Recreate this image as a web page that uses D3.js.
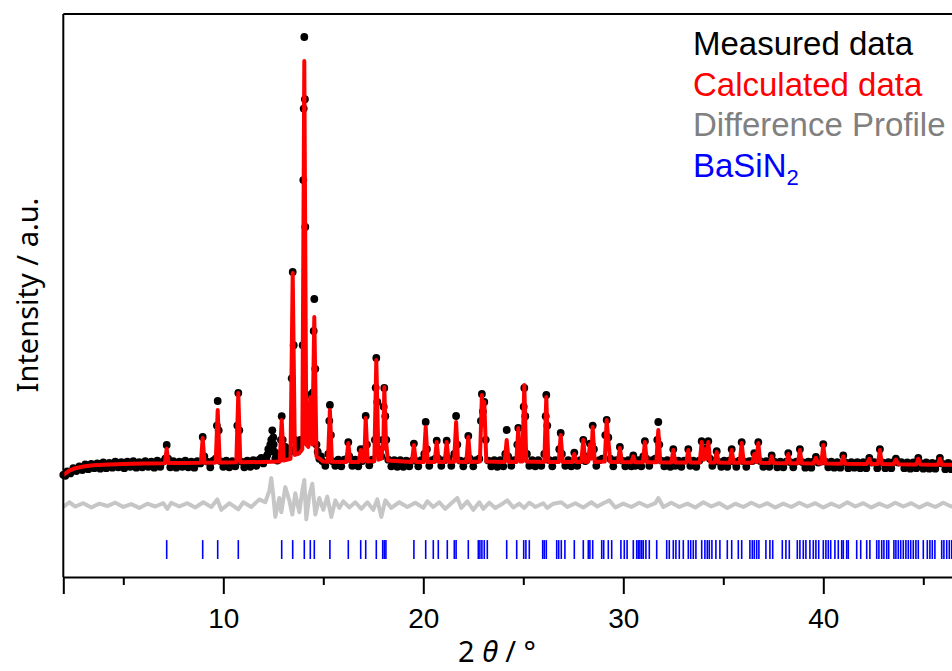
<html>
<head>
<script src="https://d3js.org/d3.v7.min.js"></script>
<style>
  body { margin: 0; background: #fff; }
  .tick text { font-family: "Liberation Sans", Arial, sans-serif; font-size: 28px; fill: #000; }
  .legend text { font-family: "Liberation Sans", Arial, sans-serif; font-size: 33px; }
  .title { font-family: "Noto Sans", "Open Sans", sans-serif; font-size: 29px; fill: #000; }
</style>
</head>
<body>
<svg width="952" height="671"></svg>
<script>
const width = 952, height = 671;

// measured points (2theta, counts)
const measured = [
[2.0,760],[2.1,740],[2.2,830],[2.35,790],[2.5,900],[2.65,840],[2.8,940],[2.95,860],[3.1,980],[3.25,880],[3.4,990],[3.55,900],[3.7,1000],[3.85,890],[4.0,1020],[4.15,900],[4.3,1010],[4.45,910],[4.6,1040],[4.75,920],[4.9,1030],[5.05,900],[5.2,1040],[5.35,930],[5.5,1050],[5.65,910],[5.8,1030],[5.95,920],[6.1,1050],[6.25,930],[6.4,1040],[6.55,910],[6.7,1060],[6.85,930],[7.0,1040],[7.1,1100],[7.17,1390],[7.24,1100],[7.35,920],[7.5,1050],[7.65,910],[7.8,1040],[7.95,930],[8.1,1060],[8.25,920],[8.4,1040],[8.55,910],[8.7,1050],[8.85,1000],[8.97,1560],[9.05,1150],[9.2,1040],[9.35,920],[9.5,1060],[9.62,1100],[9.68,1800],[9.72,2320],[9.77,1700],[9.85,1050],[10.0,930],[10.15,1060],[10.3,920],[10.45,1050],[10.6,940],[10.7,1800],[10.75,2489],[10.8,1700],[10.9,1040],[11.05,920],[11.2,1060],[11.35,930],[11.5,1070],[11.65,950],[11.8,1080],[11.9,1120],[12.0,1000],[12.1,1120],[12.15,1100],[12.2,1180],[12.25,1300],[12.3,1250],[12.35,1400],[12.4,1500],[12.45,1700],[12.5,1550],[12.52,1400],[12.55,1250],[12.6,1100],[12.65,1150],[12.7,1060],[12.75,1200],[12.8,1100],[12.88,1500],[12.92,2000],[12.97,1500],[13.0,1300],[13.05,1150],[13.1,1350],[13.15,1300],[13.2,1250],[13.25,1150],[13.3,1300],[13.35,1250],[13.42,2800],[13.47,5047],[13.52,3500],[13.58,1500],[13.65,1350],[13.7,1250],[13.75,1400],[13.8,1300],[13.85,1500],[13.9,1450],[13.97,3500],[14.0,6990],[14.02,8500],[14.05,10014],[14.08,8700],[14.1,6000],[14.15,2000],[14.2,1700],[14.25,1500],[14.32,2000],[14.35,2450],[14.4,1800],[14.44,1600],[14.48,2500],[14.52,3800],[14.55,4476],[14.6,3000],[14.66,1400],[14.72,1250],[14.8,1100],[14.88,1150],[14.95,1050],[15.1,950],[15.25,1200],[15.3,1900],[15.33,2236],[15.38,1600],[15.45,1050],[15.6,950],[15.75,1080],[15.9,940],[16.05,1080],[16.2,1100],[16.25,1450],[16.3,1150],[16.45,950],[16.6,1080],[16.75,940],[16.87,1300],[16.95,1050],[17.05,1300],[17.12,2003],[17.18,1400],[17.3,960],[17.45,1080],[17.58,1500],[17.62,2600],[17.65,3229],[17.7,2300],[17.76,1300],[17.9,1150],[17.97,1500],[18.02,2200],[18.05,2595],[18.1,2000],[18.15,1500],[18.25,1080],[18.4,940],[18.55,1070],[18.7,930],[18.85,1070],[19.0,930],[19.15,1060],[19.3,940],[19.45,1060],[19.53,1420],[19.6,1060],[19.75,940],[19.9,1070],[20.05,1200],[20.12,1876],[20.18,1300],[20.3,950],[20.45,1070],[20.6,1100],[20.67,1480],[20.75,1100],[20.9,950],[21.05,1070],[21.17,1480],[21.25,1100],[21.4,950],[21.55,1200],[21.64,2003],[21.7,1400],[21.85,1060],[22.0,940],[22.15,1060],[22.25,1580],[22.33,1100],[22.5,940],[22.65,1070],[22.8,1100],[22.88,1900],[22.93,2470],[22.98,2100],[23.05,2300],[23.12,1500],[23.25,1060],[23.4,940],[23.55,1070],[23.7,930],[23.85,1070],[24.0,940],[24.1,1200],[24.17,1707],[24.24,1150],[24.4,950],[24.55,1070],[24.7,1400],[24.75,1749],[24.82,1300],[24.95,1200],[25.02,2200],[25.05,2595],[25.1,2000],[25.18,1200],[25.3,950],[25.45,1070],[25.6,940],[25.75,1070],[25.9,950],[26.05,1200],[26.12,2000],[26.15,2447],[26.2,1800],[26.3,1070],[26.45,940],[26.6,1070],[26.8,1300],[26.87,1644],[26.93,1200],[27.1,950],[27.25,1070],[27.4,940],[27.55,1230],[27.7,950],[27.85,1070],[28.0,1500],[28.1,1050],[28.25,1150],[28.33,1420],[28.42,1400],[28.47,1800],[28.53,1300],[28.65,950],[28.8,1070],[28.95,1100],[29.1,1600],[29.17,1919],[29.25,1550],[29.35,1100],[29.5,940],[29.65,1070],[29.83,1350],[29.95,1060],[30.1,940],[30.25,1070],[30.4,940],[30.5,1170],[30.6,950],[30.75,1070],[30.9,940],[31.0,1150],[31.08,1470],[31.15,1100],[31.3,950],[31.45,1070],[31.6,1100],[31.7,1500],[31.75,1876],[31.8,1400],[31.9,1060],[32.05,940],[32.2,1070],[32.35,930],[32.5,1300],[32.6,950],[32.75,1060],[32.9,930],[33.05,1060],[33.25,1300],[33.35,950],[33.5,1060],[33.65,930],[33.8,1060],[33.92,1470],[34.0,1150],[34.08,1320],[34.17,1200],[34.25,1470],[34.33,1100],[34.45,950],[34.58,1060],[34.67,1260],[34.75,1040],[34.9,930],[35.05,1060],[35.2,930],[35.3,1060],[35.42,1300],[35.52,1040],[35.65,930],[35.8,1060],[35.92,1450],[36.0,1050],[36.15,930],[36.3,1050],[36.45,1050],[36.55,1220],[36.65,1100],[36.75,1450],[36.85,1050],[37.0,930],[37.15,1050],[37.3,930],[37.42,1170],[37.55,1040],[37.7,920],[37.85,1040],[38.0,920],[38.15,1040],[38.25,1220],[38.35,1030],[38.5,920],[38.65,1040],[38.83,1300],[38.95,1030],[39.1,910],[39.25,1040],[39.4,910],[39.5,1040],[39.63,1140],[39.75,1020],[39.88,1040],[40.0,1410],[40.1,1040],[40.25,920],[40.4,1040],[40.55,910],[40.7,1030],[40.85,910],[41.0,1170],[41.1,1020],[41.25,900],[41.4,1030],[41.55,910],[41.7,1030],[41.85,900],[42.0,1030],[42.15,900],[42.3,1120],[42.42,1020],[42.55,1030],[42.7,900],[42.83,1300],[42.95,1020],[43.1,900],[43.25,1030],[43.4,900],[43.5,1030],[43.63,1100],[43.75,1020],[43.9,1030],[44.05,900],[44.2,1020],[44.35,890],[44.5,1020],[44.65,900],[44.75,1120],[44.85,1010],[45.0,890],[45.15,1020],[45.3,890],[45.45,1010],[45.6,890],[45.73,1010],[45.83,1120],[45.93,1000],[46.1,880],[46.25,1010],[46.4,880],[46.55,1000],[46.7,880],[46.85,1000],[47.0,890]
];

// calculated profile
const calculated = [
[2.0,756],[2.3,850],[2.6,900],[3.0,935],[3.5,960],[4.0,975],[5.0,990],[6.0,1000],[7.0,1005],
[7.08,1010],[7.17,1310],[7.26,1010],[8.0,1010],[8.88,1015],[8.97,1538],[9.06,1015],
[9.62,1020],[9.72,2130],[9.82,1020],[10.65,1025],[10.75,2489],[10.85,1025],
[12.0,1030],[12.82,1040],[12.92,1919],[13.02,1060],
[13.36,1100],[13.47,5026],[13.58,1180],[13.8,1220],[13.95,1300],[14.05,9507],[14.15,1400],[14.25,1350],[14.35,2400],[14.45,1400],[14.55,4096],[14.66,1150],
[15.0,1040],[15.23,1035],[15.33,2130],[15.43,1035],[16.15,1030],[16.25,1432],[16.35,1030],
[16.78,1030],[16.87,1284],[16.96,1040],[17.05,1060],[17.12,1961],[17.22,1040],
[17.55,1050],[17.65,3187],[17.76,1080],[17.9,1100],[17.97,1400],[18.0,1300],[18.05,2616],[18.13,1500],[18.23,1060],
[19.43,1030],[19.53,1390],[19.63,1030],[20.02,1030],[20.12,1771],[20.22,1030],
[20.57,1030],[20.67,1453],[20.77,1030],[21.07,1030],[21.17,1453],[21.27,1030],
[21.54,1035],[21.64,1876],[21.74,1035],[22.15,1030],[22.25,1559],[22.35,1030],
[22.83,1040],[22.93,2447],[23.0,1800],[23.05,2300],[23.15,1040],
[24.07,1030],[24.17,1496],[24.27,1030],[24.65,1030],[24.75,1749],[24.85,1040],
[24.95,1040],[25.05,2658],[25.15,1040],[26.05,1030],[26.15,2405],[26.25,1030],
[26.77,1030],[26.87,1601],[26.97,1030],[27.45,1030],[27.55,1200],[27.65,1030],
[27.9,1030],[28.0,1496],[28.1,1030],[28.25,1040],[28.33,1400],[28.4,1100],[28.47,1771],[28.57,1030],
[29.07,1040],[29.17,1919],[29.25,1500],[29.35,1030],[29.73,1030],[29.83,1327],[29.93,1030],
[30.4,1025],[30.5,1150],[30.6,1025],[30.98,1025],[31.08,1453],[31.18,1025],
[31.65,1025],[31.75,1707],[31.85,1025],[32.4,1020],[32.5,1284],[32.6,1020],
[33.15,1020],[33.25,1284],[33.35,1020],
[33.82,1020],[33.92,1453],[34.02,1080],[34.08,1300],[34.15,1100],[34.25,1453],[34.35,1020],
[34.57,1020],[34.67,1242],[34.77,1020],[35.32,1015],[35.42,1284],[35.52,1015],
[35.82,1015],[35.92,1432],[36.02,1015],[36.45,1015],[36.55,1200],[36.65,1030],[36.75,1432],[36.85,1015],
[37.32,1010],[37.42,1150],[37.52,1010],[38.15,1005],[38.25,1200],[38.35,1005],
[38.73,1005],[38.83,1284],[38.93,1005],[39.5,1000],[39.63,1120],[39.75,1000],
[39.9,1000],[40.0,1390],[40.1,1000],[40.9,995],[41.0,1150],[41.1,995],
[42.17,990],[42.3,1100],[42.4,990],[42.73,990],[42.83,1284],[42.93,990],
[43.5,985],[43.63,1080],[43.75,985],[44.65,980],[44.75,1100],[44.85,980],
[45.73,975],[45.83,1100],[45.93,975],[47.0,970]
];

// difference (obs - calc)
const difference = [
[2.0,-40],[2.3,60],[2.6,-30],[3.0,40],[3.4,-50],[3.8,30],[4.2,-20],[4.6,50],[5.0,-40],[5.4,20],[5.8,-60],[6.2,30],[6.6,-30],[7.0,40],[7.2,-80],[7.4,50],[7.8,-30],[8.2,40],[8.6,-50],[9.0,60],[9.4,-40],[9.7,120],[9.9,-100],[10.3,40],[10.75,-90],[11.0,60],[11.4,-40],[11.8,120],[12.1,60],[12.3,300],[12.4,570],[12.5,200],[12.6,-250],[12.8,150],[12.9,-150],[13.1,380],[13.3,100],[13.45,-200],[13.6,250],[13.8,-150],[13.95,300],[14.05,530],[14.15,-300],[14.3,200],[14.45,450],[14.6,-200],[14.8,150],[15.0,-100],[15.2,180],[15.4,-250],[15.6,100],[15.8,-60],[16.0,80],[16.3,-50],[16.6,60],[16.9,-80],[17.2,60],[17.5,-100],[17.7,120],[17.9,-250],[18.1,100],[18.4,-60],[18.8,60],[19.2,-40],[19.6,50],[20.0,-60],[20.2,80],[20.5,-40],[20.8,60],[21.1,-80],[21.4,40],[21.7,150],[21.9,-60],[22.2,80],[22.5,-100],[22.8,60],[23.0,-80],[23.3,50],[23.6,-60],[24.0,40],[24.2,100],[24.5,-50],[24.8,30],[25.05,-60],[25.3,50],[25.6,-40],[26.0,40],[26.2,-60],[26.5,30],[26.9,60],[27.2,-40],[27.6,40],[28.0,-50],[28.4,60],[28.7,-30],[29.0,40],[29.3,100],[29.6,-50],[30.0,30],[30.4,-40],[30.8,50],[31.2,-30],[31.6,40],[31.75,150],[32.0,-40],[32.4,50],[32.8,-40],[33.2,30],[33.6,-50],[34.0,60],[34.4,-30],[34.8,40],[35.2,-60],[35.6,30],[36.0,-40],[36.4,50],[36.8,-30],[37.2,40],[37.6,-50],[38.0,30],[38.4,-40],[38.8,50],[39.2,-30],[39.6,40],[40.0,-50],[40.4,30],[40.8,-40],[41.2,60],[41.6,-30],[42.0,40],[42.4,-50],[42.8,30],[43.2,-40],[43.6,50],[44.0,-30],[44.4,40],[44.8,-50],[45.2,30],[45.6,-40],[46.0,50],[46.4,-30],[46.8,40]
];
const diffOffset = 120;

// BaSiN2 reflection positions
const reflections = [7.17,8.97,9.72,10.75,12.92,13.47,14.05,14.35,14.55,15.33,16.25,16.87,17.12,17.65,17.97,18.05,18.13,19.53,
20.12,20.5,20.75,21.2,21.55,21.64,22.25,22.75,22.83,22.93,23.05,23.2,24.17,24.67,25.02,25.13,25.3,25.97,26.05,26.15,
26.67,26.77,26.9,27.08,27.55,28.0,28.25,28.33,28.47,28.92,29.02,29.25,29.42,29.88,30.05,30.19,30.5,30.67,30.75,30.83,
30.92,31.0,31.13,31.3,31.67,32.17,32.3,32.5,32.63,32.8,33.0,33.25,33.37,33.5,33.63,33.92,34.08,34.2,34.3,34.43,34.63,
34.83,35.2,35.42,35.75,35.92,36.33,36.45,36.55,36.67,36.78,37.13,37.33,37.47,37.95,38.13,38.3,38.7,38.83,39.0,39.13,
39.33,39.5,39.63,39.77,40.0,40.13,40.25,40.37,40.58,40.75,40.92,41.0,41.17,41.25,41.67,41.87,42.17,42.33,42.67,42.78,
42.92,43.03,43.17,43.27,43.53,43.63,43.75,43.87,44.0,44.13,44.25,44.37,44.5,44.63,44.75,45.0,45.2,45.33,45.45,45.58,
45.92,46.03,46.17,46.3,46.42,46.6,46.8];
const reflTop = -620, reflBottom = -1020;

const majorTicks = [10, 20, 30, 40];
const minorTicks = [5, 15, 25, 35, 45];
const legendItems = ["Measured data", "Calculated data", "Difference Profile", "BaSiN"];
const legendColors = ["#000000", "#ff0000", "#808080", "#0000ff"];

const margin = { top: 14, left: 63, bottom: 94 };
const svg = d3.select("svg");

const x = d3.scaleLinear().domain([2, 50]).range([63.3, 1023.3]);
const y = d3.scaleLinear().domain([-1400, 10500]).range([height - margin.bottom, margin.top]);

// difference
svg.append("path")
   .datum(difference)
   .attr("fill", "none")
   .attr("stroke", "#c6c6c6")
   .attr("stroke-width", 4)
   .attr("stroke-linejoin", "round")
   .attr("d", d3.line().x(d => x(d[0])).y(d => y(d[1] + diffOffset)));

// reflections
svg.append("g").selectAll("line")
   .data(reflections)
   .enter().append("line")
   .attr("x1", d => x(d)).attr("x2", d => x(d))
   .attr("y1", y(reflTop)).attr("y2", y(reflBottom))
   .attr("stroke", "#0000ff")
   .attr("stroke-width", 1.6);

// measured
svg.append("g").selectAll("circle")
   .data(measured)
   .enter().append("circle")
   .attr("cx", d => x(d[0]))
   .attr("cy", d => y(d[1]))
   .attr("r", 3.9)
   .attr("fill", "#000");

// calculated
svg.append("path")
   .datum(calculated)
   .attr("fill", "none")
   .attr("stroke", "#ff0000")
   .attr("stroke-width", 4)
   .attr("stroke-linejoin", "round")
   .attr("d", d3.line().x(d => x(d[0])).y(d => y(d[1])));

// frame
const yBottom = height - margin.bottom;
svg.append("line").attr("x1", 63.3).attr("x2", 1023.3).attr("y1", margin.top).attr("y2", margin.top)
   .attr("stroke", "#000").attr("stroke-width", 2);
svg.append("line").attr("x1", 63.3).attr("x2", 63.3).attr("y1", margin.top).attr("y2", yBottom)
   .attr("stroke", "#000").attr("stroke-width", 2);

const xMajor = svg.append("g")
   .attr("transform", `translate(0,${yBottom})`)
   .call(d3.axisBottom(x).tickValues(majorTicks).tickSize(17).tickPadding(14).tickFormat(d3.format("d")));
xMajor.select(".domain").attr("stroke-width", 2);
xMajor.selectAll(".tick line").attr("stroke-width", 2);

const xMinor = svg.append("g")
   .attr("transform", `translate(0,${yBottom})`)
   .call(d3.axisBottom(x).tickValues(minorTicks).tickSize(8).tickFormat(""));
xMinor.select(".domain").remove();
xMinor.selectAll(".tick line").attr("stroke-width", 2);

// axis titles
const xt = svg.append("text").attr("class", "title")
   .attr("x", 497).attr("y", 662).attr("text-anchor", "middle");
xt.append("tspan").text("2 ");
xt.append("tspan").attr("font-style", "italic").text("θ");
xt.append("tspan").text(" / °");

svg.append("text").attr("class", "title")
   .attr("transform", "translate(38,295) rotate(-90)")
   .attr("text-anchor", "middle")
   .attr("font-size", "30px")
   .text("Intensity / a.u.");

// legend
const legend = svg.append("g").attr("class", "legend");
legendItems.forEach((t, i) => {
  const txt = legend.append("text")
     .attr("x", 693).attr("y", 55 + i * 40.7)
     .attr("fill", legendColors[i])
     .text(t);
  if (i === 3) {
    txt.append("tspan").attr("dy", 8).attr("font-size", "22px").text("2");
  }
});
</script>
</body>
</html>
